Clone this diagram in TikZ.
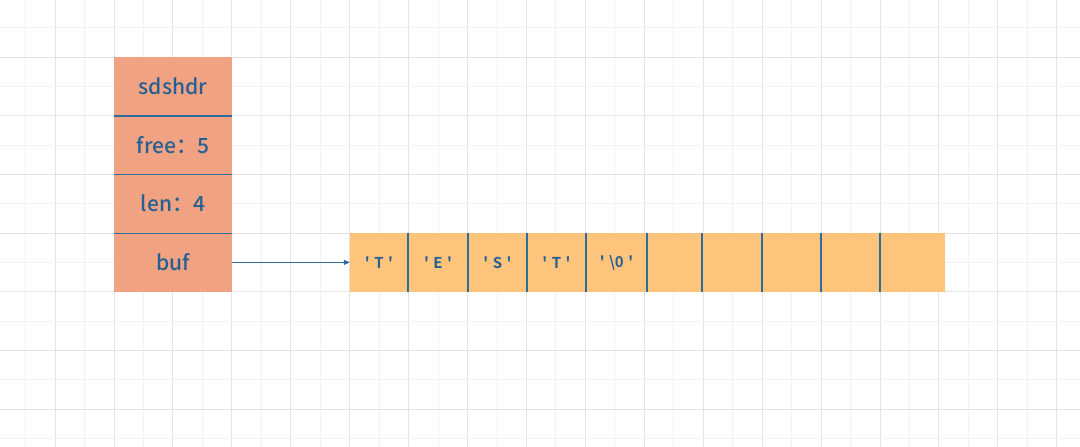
\documentclass[tikz,border=0pt]{standalone}
\usepackage{fontspec}
\setmainfont{Noto Sans CJK SC Medium}
\newfontfamily\cellfont{Noto Sans CJK SC Bold}[Ligatures=TeXOff]
\usetikzlibrary{arrows.meta}
\definecolor{salmon}{RGB}{240,162,131}
\definecolor{peach}{RGB}{255,196,124}
\definecolor{ink}{RGB}{36,96,146}
\definecolor{lineblue}{RGB}{45,108,160}
\definecolor{gridmajor}{RGB}{228,228,228}
\definecolor{gridminor}{RGB}{242,242,242}
\tikzset{
  hdr/.style={rectangle, fill=salmon, minimum width=118pt, minimum height=58.7pt, inner sep=0pt, text=ink, font=\fontsize{21}{24}\selectfont},
  cell/.style={rectangle, fill=peach, minimum height=58.7pt, inner sep=0pt, text=ink, font=\cellfont\fontsize{15}{18}\selectfont},
  sep/.style={draw=lineblue, line width=1.5pt},
  link/.style={draw=lineblue, line width=0.8pt, -{Triangle[length=6pt,width=5pt]}},
}
\newcommand{\ch}[1]{'\hspace{4.5pt}#1\hspace{4.5pt}'}
\begin{document}
\begin{tikzpicture}[x=1pt,y=-1pt]
\fill[white] (0,0) rectangle (1080,447);
\useasboundingbox (0,0) rectangle (1080,447);
% grid
\foreach \k in {-3,...,33} {
  \pgfmathsetmacro{\xx}{114+29.46*\k}
  \pgfmathtruncatemacro{\ev}{mod(abs(\k),2)}
  \ifnum\ev=0 \draw[gridmajor, line width=0.9pt] (\xx,0) -- (\xx,447);
  \else \draw[gridminor, line width=0.9pt] (\xx,0) -- (\xx,447); \fi
}
\foreach \k in {-1,...,13} {
  \pgfmathsetmacro{\yy}{57+29.35*\k}
  \pgfmathtruncatemacro{\ev}{mod(abs(\k),2)}
  \ifnum\ev=0 \draw[gridmajor, line width=0.9pt] (0,\yy) -- (1080,\yy);
  \else \draw[gridminor, line width=0.9pt] (0,\yy) -- (1080,\yy); \fi
}
% header stack
\node[hdr] (h1) at (173,86.3) {sdshdr};
\node[hdr] (h2) at (173,145) {free：5};
\node[hdr] (h3) at (173,203.7) {len：4};
\node[hdr] (h4) at (173,262.4) {buf};
\draw[sep] (h1.south west) -- (h1.south east);
\draw[sep] (h2.south west) -- (h2.south east);
\draw[sep] (h3.south west) -- (h3.south east);
% buffer cells
\node[cell, minimum width=58pt] (c1) at (379,262.4) {\ch{T}};
\node[cell, minimum width=60pt] (c2) at (438,262.4) {\ch{E}};
\node[cell, minimum width=59pt] (c3) at (497.5,262.4) {\ch{S}};
\node[cell, minimum width=59pt] (c4) at (556.5,262.4) {\ch{T}};
\node[cell, minimum width=61pt] (c5) at (616.5,262.4) {\ch{\textbackslash 0}};
\node[cell, minimum width=55pt] (c6) at (674.5,262.4) {};
\node[cell, minimum width=60pt] (c7) at (732,262.4) {};
\node[cell, minimum width=59pt] (c8) at (791.5,262.4) {};
\node[cell, minimum width=59pt] (c9) at (850.5,262.4) {};
\node[cell, minimum width=65pt] (c10) at (912.5,262.4) {};
\foreach \i in {1,...,9} {
  \draw[sep] (c\i.north east) -- (c\i.south east);
}
% pointer
\draw[link] (h4.east) -- (c1.west);
\end{tikzpicture}
\end{document}
